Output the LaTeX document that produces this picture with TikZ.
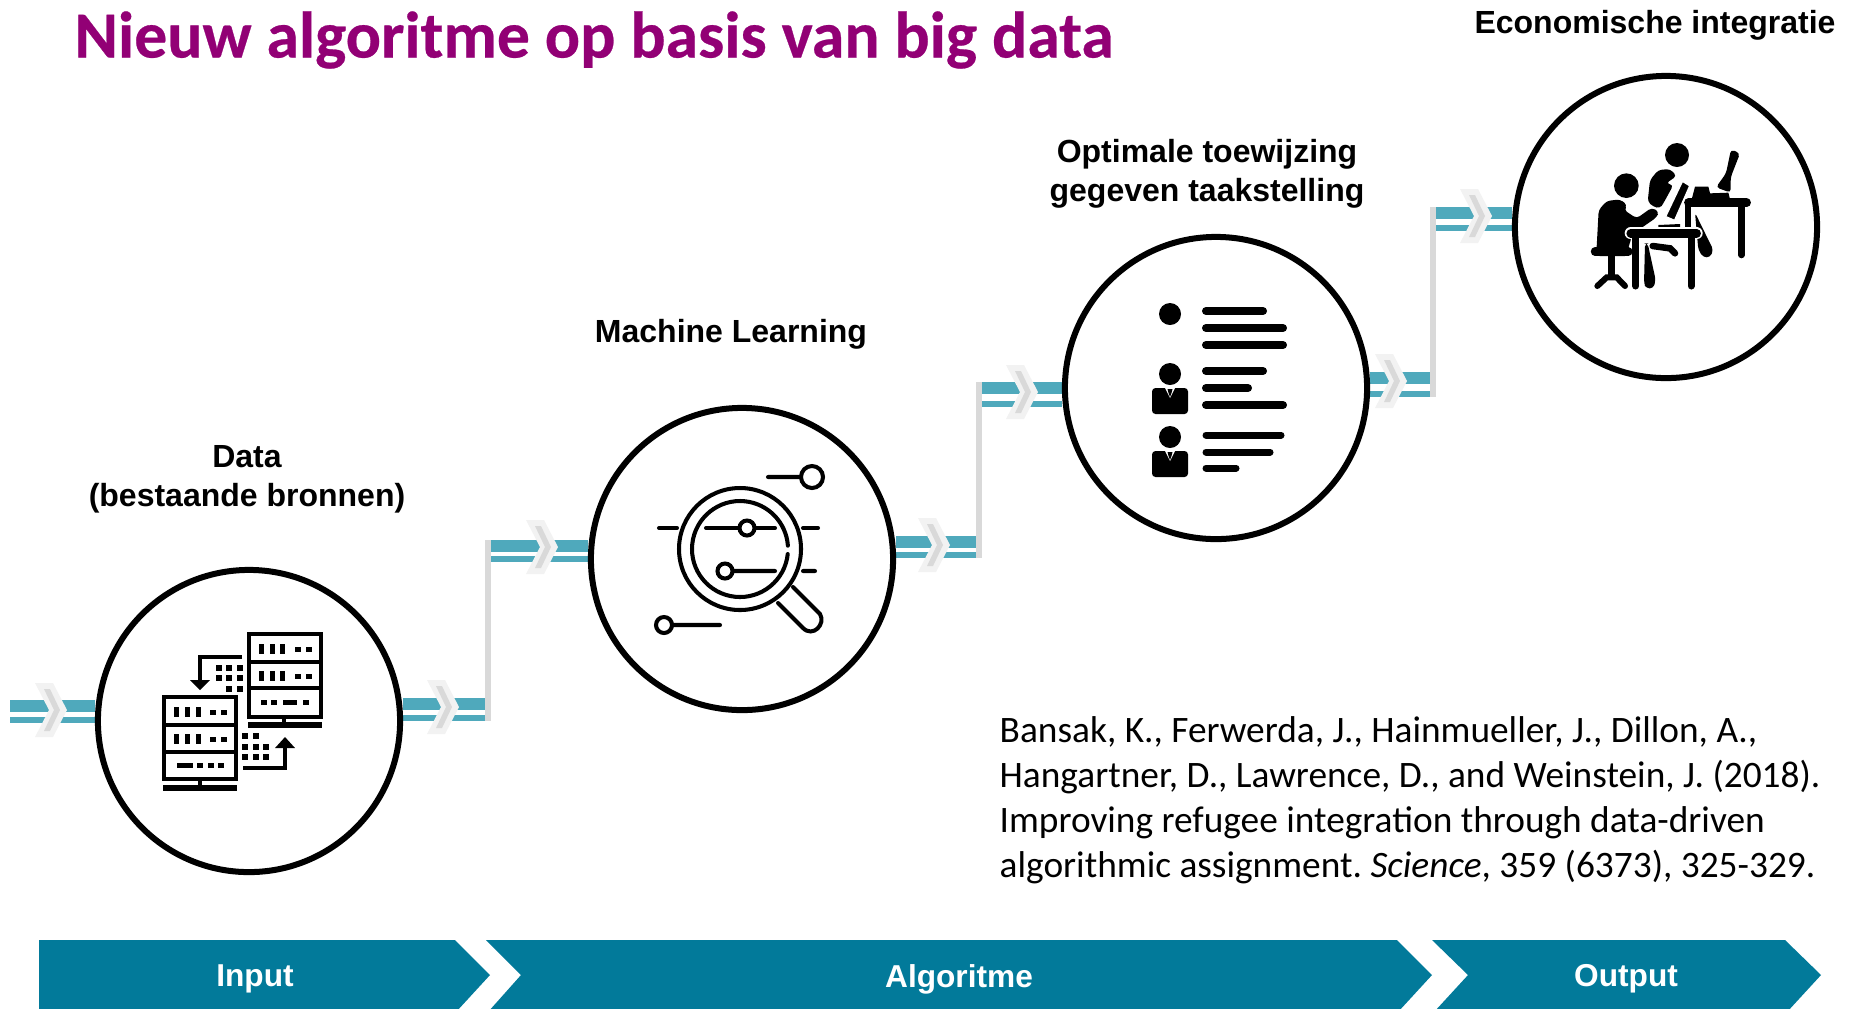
\documentclass[tikz,border=0pt]{standalone}
\usepackage{fontspec}
\setmainfont{Liberation Sans}
\newfontfamily\titlefont[BoldFeatures={FakeBold=0.4}]{Carlito}
\newfontfamily\citefont{Carlito}
\usepackage{tikz}
\usetikzlibrary{positioning,calc,backgrounds}

\definecolor{titlepurple}{HTML}{920075}
\definecolor{bandblue}{HTML}{027A9A}
\definecolor{barteal}{HTML}{4FA9BC}
\definecolor{chevlight}{HTML}{F2F2F2}
\definecolor{chevdark}{HTML}{D9D9D9}

\tikzset{
  stepcircle/.style={circle,draw=black,fill=white,line width=0.06cm,minimum size=3.02cm,inner sep=0pt},
  steplabel/.style={font=\bfseries\fontsize{9.1}{11.1}\selectfont,align=center},
  bandlabel/.style={font=\bfseries\fontsize{9}{11}\selectfont,text=white},
  barthick/.style={barteal,line width=0.12cm},
  barthin/.style={barteal,line width=0.06cm},
  riser/.style={chevdark,line width=0.055cm},
  textbar/.style={black,line width=0.08cm,line cap=round},
  band/.style={fill=bandblue},
}
\newcommand{\chev}[2]{% x of the left edge, y of the middle
  \fill[chevlight] (#1,#2-27) -- ++(18,0) -- ++(14,27) -- ++(-14,27) -- ++(-18,0) -- ++(14,-27) -- cycle;
  \fill[chevdark] (#1+9,#2-21) -- ++(6,0) -- ++(10,21) -- ++(-10,21) -- ++(-6,0) -- ++(10,-21) -- cycle;
}
\newcommand{\pers}[2]{% head and body of a small figure
  \fill (#1,#2) circle (11);
  \fill[rounded corners=1pt] (#1-18,#2+14) -- (#1+18,#2+14) -- (#1+18,#2+40) -- (#1-18,#2+40) -- cycle;
  \fill[white] (#1-5,#2+14) -- (#1+5,#2+14) -- (#1,#2+24) -- cycle;
  \fill (#1-2.5,#2+15) -- (#1+2.5,#2+15) -- (#1+1.5,#2+19) -- (#1,#2+23) -- (#1-1.5,#2+19) -- cycle;
}

\begin{document}
\begin{tikzpicture}[x=0.01cm,y=-0.01cm]
\useasboundingbox (0,0) rectangle (1852,1008);

% title and the four steps
\node[anchor=west,text=titlepurple,font=\titlefont\bfseries\fontsize{18.7}{20}\selectfont,inner sep=0pt] (title) at (74,40) {Nieuw algoritme op basis van big data};

\node[stepcircle] (data) at (249,721) {};
\node[stepcircle] (ml) at (742,559) {};
\node[stepcircle] (assign) at (1216,388) {};
\node[stepcircle] (econ) at (1666,227) {};

\node[steplabel] (datalabel) at (247,479) {Data\\(bestaande bronnen)};
\node[steplabel] (mllabel) at (731,334) {Machine Learning};
\node[steplabel] (assignlabel) at (1207,174) {Optimale toewijzing\\gegeven taakstelling};
\node[steplabel] (econlabel) at (1655,25) {Economische integratie};

% connectors
\coordinate (start) at (10,706);
\coordinate (startb) at (10,720);
\coordinate (up1a) at (488,704);
\coordinate (up1b) at (488,718);
\coordinate (top1a) at (488,546);
\coordinate (top1b) at (488,559);
\coordinate (up2a) at (979,542);
\coordinate (up2b) at (979,555);
\coordinate (top2a) at (979,388);
\coordinate (top2b) at (979,404);
\coordinate (up3a) at (1433,378);
\coordinate (up3b) at (1433,394);
\coordinate (top3a) at (1433,213);
\coordinate (top3b) at (1433,228);

\begin{scope}[on background layer]
\draw[barthick] (start) -- (data.west |- start);
\draw[barthin] (startb) -- (data.west |- startb);
\draw[barthick] (data.east |- up1a) -- (up1a);
\draw[barthin] (data.east |- up1b) -- (up1b);
\draw[barthick] (top1a) -- (ml.west |- top1a);
\draw[barthin] (top1b) -- (ml.west |- top1b);
\draw[barthick] (ml.east |- up2a) -- (up2a);
\draw[barthin] (ml.east |- up2b) -- (up2b);
\draw[barthick] (top2a) -- (assign.west |- top2a);
\draw[barthin] (top2b) -- (assign.west |- top2b);
\draw[barthick] (assign.east |- up3a) -- (up3a);
\draw[barthin] (assign.east |- up3b) -- (up3b);
\draw[barthick] (top3a) -- (econ.west |- top3a);
\draw[barthin] (top3b) -- (econ.west |- top3b);
\end{scope}
\draw[riser] (top1a) ++(0,-6) -- ($(up1b)+(0,3)$);
\draw[riser] (top2a) ++(0,-6) -- ($(up2b)+(0,3)$);
\draw[riser] (top3a) ++(0,-6) -- ($(up3b)+(0,3)$);

\chev{35}{710}
\chev{427}{707}
\chev{526}{547}
\chev{918}{545}
\chev{1006}{392}
\chev{1375}{381}
\chev{1460}{216}

% bottom band
\fill[band] (39,940) -- (455,940) -- (490,975) -- (456,1012) -- (39,1012) -- cycle;
\fill[band] (486,940) -- (1397,940) -- (1432,975) -- (1398,1012) -- (488,1012) -- (521,975) -- cycle;
\fill[band] (1432,940) -- (1785,940) -- (1821,975) -- (1787,1012) -- (1434,1012) -- (1468,975) -- cycle;
\node[bandlabel] (input) at (255,979) {Input};
\node[bandlabel] (algo) at (959,979) {Algoritme};
\node[bandlabel] (output) at (1626,979) {Output};

% citation
\node[anchor=north west,align=left,inner sep=0pt,font=\citefont\frenchspacing\fontsize{10.62}{12.8}\selectfont] (cite) at (999,716) {Bansak, K., Ferwerda, J., Hainmueller, J., Dillon, A.,\\Hangartner, D., Lawrence, D., and Weinstein, J. (2018).\\Improving refugee integration through data-driven\\algorithmic assignment. \textit{Science}, 359 (6373), 325-329.};

% server icon
\begin{scope}[line width=1.15pt]
\draw (249,634) rectangle (321,717) (249,662) -- (321,662) (249,688) -- (321,688) (284,717) -- (284,725);
\draw[line width=1.5pt] (248,725) -- (322,725);
\draw (164,697) rectangle (236,779) (164,725) -- (236,725) (164,752) -- (236,752) (200,779) -- (200,788);
\draw[line width=1.5pt] (163,788) -- (237,788);
\foreach \x in {261,272,282} {\fill (\x-2.5,644) rectangle (\x+2.5,654); \fill (\x-2.5,671) rectangle (\x+2.5,681);}
\foreach \x in {298,309} {\fill (\x-3,646.5) rectangle (\x+3,651.5); \fill (\x-3,673.5) rectangle (\x+3,678.5);}
\foreach \x in {264,274,306} \fill (\x-3,699.5) rectangle (\x+3,704.5);
\fill (283,699.5) rectangle (297,704.5);
\foreach \x in {176,187,198} {\fill (\x-2.5,707) rectangle (\x+2.5,717); \fill (\x-2.5,734) rectangle (\x+2.5,744);}
\foreach \x in {213,224} {\fill (\x-3,709.5) rectangle (\x+3,714.5); \fill (\x-3,736.5) rectangle (\x+3,741.5);}
\foreach \x in {200,211,221} \fill (\x-3,762.5) rectangle (\x+3,767.5);
\fill (177,762.5) rectangle (193,767.5);
\draw (242,657) -- (200,657) -- (200,682);
\fill (190,680) -- (210,680) -- (200,690) -- cycle;
\foreach \x/\y in {219/668,229/668,240/668,219/678,229/678,240/678,229/689,240/689} \fill (\x-3,\y-3) rectangle (\x+3,\y+3);
\draw (243,768) -- (285,768) -- (285,745);
\fill (275,748) -- (295,748) -- (285,737) -- cycle;
\foreach \x/\y in {245/736,256/736,245/747,256/747,266/747,245/757,256/757,266/757} \fill (\x-3,\y-3) rectangle (\x+3,\y+3);
\end{scope}

% lens icon
\begin{scope}[line width=1.15pt,line cap=round]
\draw (740,549) circle (61);
\draw (740,549) ++(6:48) arc (6:356:48);
\draw (706,528) -- (739,528) (755,528) -- (775,528) (659,528) -- (677,528) (803,528) -- (818,528);
\draw (747,528) circle (7.5);
\draw (725,571) circle (7.5) (733,571) -- (775,571) (803,571) -- (815,571);
\draw (768,477) -- (801,477) (812,477) circle (11);
\draw (664,625) circle (8) (672,625) -- (720,625);
\draw (793,587) -- (820,614) .. controls (826,624) and (813,638) .. (803,628) -- (778,603);
\end{scope}

% list icon
\fill (1170,314) circle (11);
\pers{1170}{374}
\pers{1170}{437}
\foreach \y/\e in {311/1263,328/1283,345/1283,371/1263,388/1248,405/1283} \draw[textbar] (1206,\y) -- (\e,\y);
\foreach \y/\e in {435/1281,452/1270,468/1236} \draw[textbar,line width=0.07cm] (1206,\y) -- (\e,\y);

% desk icon
\begin{scope}[shift={(1500,70)},x=0.01cm/3,y=-0.01cm/3]
\fill (379,347) circle (37);
\fill (531,255) circle (36);
\fill[rounded corners=1pt] (443,395) -- (450,330) -- (475,300) -- (510,297) -- (530,318) -- (498,340) -- (520,345) -- (490,400) -- (480,415) -- (460,410) -- cycle;
\fill[draw=white,line width=0.5pt] (547,333) -- (570,347) -- (524,452) -- (496,440) -- cycle;
\fill[rounded corners=1pt] (296,420) -- (320,393) -- (360,388) -- (382,405) -- (372,420) -- (410,445) -- (455,413) -- (477,425) -- (470,442) -- (415,480) -- (385,482) -- (395,505) -- (385,530) -- (385,558) -- (288,558) -- (290,530) -- cycle;
\draw[line width=0.085cm,line cap=round] (285,545) -- (385,545);
\draw[line width=0.065cm] (335,558) -- (335,620);
\draw[line width=0.06cm,line cap=round] (292,648) -- (320,622) -- (350,622) -- (375,648);
\draw[line width=0.065cm,line cap=round] (458,528) -- (510,535) -- (525,550);
\fill[rounded corners=1pt] (585,428) -- (640,540) -- (630,562) -- (610,562) -- (595,540) -- cycle;
\fill[rounded corners=1pt] (435,520) -- (443,520) -- (467,630) -- (460,655) -- (438,655) -- (432,640) -- cycle;
\fill (575,388) -- (585,350) -- (625,350) -- (630,370) -- (685,368) -- (690,388) -- cycle;
\fill[rounded corners=1pt] (693,238) -- (720,250) -- (692,322) -- (692,368) -- (648,352) -- (678,310) -- cycle;
\draw[line width=0.085cm,line cap=round] (565,398) -- (740,398);
\draw[line width=0.065cm,line cap=round] (724,398) -- (724,555);
\draw[line width=0.06cm] (565,398) -- (565,470);
\fill (475,465) -- (540,462) -- (540,480) -- (475,480) -- cycle;
\draw[white,line width=0.12cm,line cap=round] (392,490) -- (590,490);
\draw[line width=0.085cm,line cap=round] (392,490) -- (590,490);
\draw[line width=0.07cm,line cap=round] (407,490) -- (407,648);
\draw[line width=0.07cm,line cap=round] (573,490) -- (573,648);
\end{scope}
\end{tikzpicture}
\end{document}
